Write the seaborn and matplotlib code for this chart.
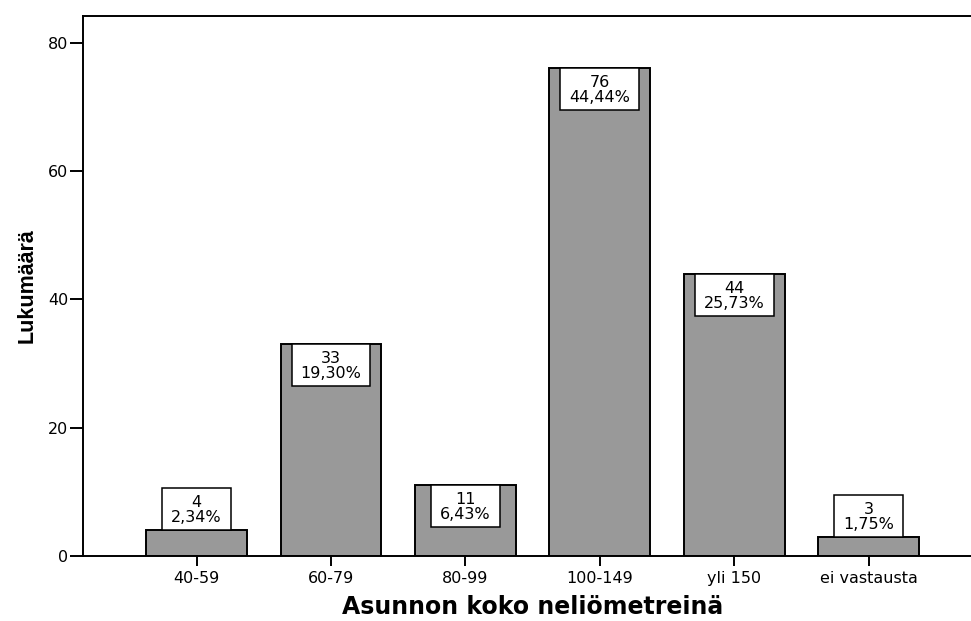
import matplotlib
matplotlib.use("Agg")
import matplotlib.pyplot as plt
from matplotlib.patches import Rectangle
import seaborn as sns

# Apartment size distribution (counts and share of all 171 answers)
categories = ["40-59", "60-79", "80-99", "100-149", "yli 150", "ei vastausta"]
counts = [4, 33, 11, 76, 44, 3]
percents = ["2,34%", "19,30%", "6,43%", "44,44%", "25,73%", "1,75%"]
y_ticks = [0, 20, 40, 60, 80]

sns.set_style("ticks")
plt.rcParams["font.family"] = ["DejaVu Sans"]

W, H, DPI = 971, 621, 100
fig = plt.figure(figsize=(W / DPI, H / DPI), dpi=DPI)
left_px, right_px, top_px, bottom_px = 82.5, 971.0, 15.7, 556.0
ax = fig.add_axes([left_px / W, (H - bottom_px) / H,
                   (right_px - left_px) / W, (bottom_px - top_px) / H])

sns.barplot(x=categories, y=counts, color="#999999", saturation=1,
            edgecolor="black", linewidth=1.4, width=0.75,
            errorbar=None, ax=ax, zorder=2)

ax.set_xlim(-0.848, 5.76)
ax.set_ylim(0, 84.2)
ax.set_yticks(y_ticks)
ax.set_xlabel("")
ax.set_ylabel("")

for side in ["left", "top", "bottom"]:
    ax.spines[side].set_linewidth(1.4)
    ax.spines[side].set_color("black")
ax.spines["right"].set_visible(False)

ax.tick_params(axis="y", length=9.5, width=1.4, pad=0.8, labelsize=11.5,
               colors="black")
ax.tick_params(axis="x", length=7.2, width=1.4, pad=3.5, labelsize=11.5,
               colors="black")

# Value boxes: inside the top of the bar when it fits, otherwise above it
BOX_H = 42
LINE1, LINE2 = 19, 34
boxes = []
for i, (c, p) in enumerate(zip(counts, percents)):
    top_disp = ax.transData.transform((i, c))[1]
    base_disp = ax.transData.transform((i, 0))[1]
    inside = (top_disp - base_disp) >= BOX_H
    box_top_off = 0 if inside else BOX_H
    t1 = ax.annotate(str(c), xy=(i, c), xycoords="data",
                     xytext=(0, box_top_off - LINE1), textcoords="offset pixels",
                     ha="center", va="baseline", fontsize=11.5, color="black",
                     zorder=5, annotation_clip=False)
    t2 = ax.annotate(p, xy=(i, c), xycoords="data",
                     xytext=(0, box_top_off - LINE2), textcoords="offset pixels",
                     ha="center", va="baseline", fontsize=11.5, color="black",
                     zorder=5, annotation_clip=False)
    boxes.append((i, c, box_top_off, t1, t2))

fig.canvas.draw()
renderer = fig.canvas.get_renderer()
inv = ax.transData.inverted()
for i, c, box_top_off, t1, t2 in boxes:
    tw = max(t1.get_window_extent(renderer).width,
             t2.get_window_extent(renderer).width)
    bw = tw + 18
    cx, cy = ax.transData.transform((i, c))
    x0, y0 = inv.transform((cx - bw / 2, cy + box_top_off - BOX_H))
    x1, y1 = inv.transform((cx + bw / 2, cy + box_top_off))
    ax.add_patch(Rectangle((x0, y0), x1 - x0, y1 - y0, facecolor="white",
                           edgecolor="black", linewidth=1.1, zorder=4,
                           clip_on=False))

# Axis titles
fig.text(532.5 / W, 7 / H, "Asunnon koko neliömetreinä", ha="center",
         va="baseline", fontsize=17, fontweight="bold", color="black",
         family=["DejaVu Sans"])
fig.text(33 / W, (H - 286) / H, "Lukumäärä", rotation=90,
         rotation_mode="anchor", ha="center", va="baseline", fontsize=15.5,
         fontweight="bold", color="black",
         family=["Liberation Sans", "DejaVu Sans"])

fig.savefig("out.png", dpi=DPI)
